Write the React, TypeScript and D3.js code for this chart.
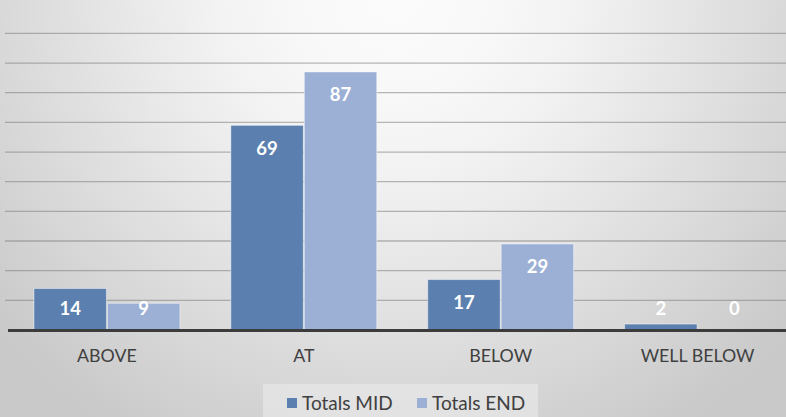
import * as d3 from "d3";
import { useEffect, useRef } from "react";

// data
const categories = ["ABOVE", "AT", "BELOW", "WELL BELOW"];
const seriesNames = ["Totals MID", "Totals END"];
const totalsMid = [14, 69, 17, 2];
const totalsEnd = [9, 87, 29, 0];
const yTicks = [0, 10, 20, 30, 40, 50, 60, 70, 80, 90, 100];

const colors = ["#5b7fae", "#9cafd5"];

export default function App() {
  const ref = useRef<SVGSVGElement | null>(null);
  const W = 786;
  const H = 417;

  useEffect(() => {
    document.body.style.margin = "0";
    const svg = d3.select(ref.current);
    svg.selectAll("*").remove();

    const font = "Lato, 'Open Sans', sans-serif";

    // 背景径向渐变
    const defs = svg.append("defs");
    const grad = defs
      .append("radialGradient")
      .attr("id", "bg")
      .attr("gradientUnits", "userSpaceOnUse")
      .attr("cx", 395)
      .attr("cy", -10)
      .attr("r", 520);
    const stops: [number, string][] = [
      [0, "#fbfbfb"],
      [0.2, "#f8f8f8"],
      [0.35, "#f2f2f2"],
      [0.5, "#e9e9e9"],
      [0.64, "#e0e0e0"],
      [0.8, "#d6d6d6"],
      [1, "#c9c9c9"],
    ];
    stops.forEach(([o, c]) =>
      grad.append("stop").attr("offset", o).attr("stop-color", c)
    );
    svg.append("rect").attr("width", W).attr("height", H).attr("fill", "url(#bg)");

    const x = d3.scaleBand().domain(categories).range([8.5, 796]).padding(0);
    const xSub = d3
      .scaleBand()
      .domain(seriesNames)
      .range([0, x.bandwidth()])
      .paddingInner(0)
      .paddingOuter(0.34);
    const y = d3.scaleLinear().domain([0, 100]).range([330, 33.4]);

    // gridlines
    svg
      .append("g")
      .selectAll("line")
      .data(yTicks.slice(1))
      .join("line")
      .attr("x1", 5)
      .attr("x2", W)
      .attr("y1", (d) => y(d))
      .attr("y2", (d) => y(d))
      .attr("stroke", "#808080")
      .attr("stroke-opacity", 0.55)
      .attr("stroke-width", 1.3);

    const rows = categories.map((c, i) => ({
      cat: c,
      vals: [totalsMid[i], totalsEnd[i]],
    }));

    const groups = svg
      .append("g")
      .selectAll("g")
      .data(rows)
      .join("g")
      .attr("transform", (d) => `translate(${x(d.cat)},0)`);

    groups
      .selectAll("rect")
      .data((d) => d.vals.map((v, k) => ({ v, k })))
      .join("rect")
      .attr("x", (d) => xSub(seriesNames[d.k])! + 0.5)
      .attr("y", (d) => y(d.v))
      .attr("width", xSub.bandwidth() - 1)
      .attr("height", (d) => y(0) - y(d.v))
      .attr("fill", (d) => colors[d.k])
      .attr("stroke", "#ffffff")
      .attr("stroke-opacity", 0.45)
      .attr("stroke-width", 1);

    groups
      .selectAll("text")
      .data((d) => d.vals.map((v, k) => ({ v, k })))
      .join("text")
      .attr("x", (d) => xSub(seriesNames[d.k])! + xSub.bandwidth() / 2)
      .attr("y", (d) => Math.min(y(d.v) + 23, 309))
      .attr("dy", "0.35em")
      .attr("text-anchor", "middle")
      .attr("fill", "#ffffff")
      .style("font-family", font)
      .style("font-weight", "bold")
      .style("font-size", "18.5px")
      .text((d) => d.v);

    // x 轴
    svg
      .append("line")
      .attr("x1", 8)
      .attr("x2", W)
      .attr("y1", y(0) + 0.5)
      .attr("y2", y(0) + 0.5)
      .attr("stroke", "#3c3c3c")
      .attr("stroke-width", 3);

    svg
      .append("g")
      .selectAll("text")
      .data(categories)
      .join("text")
      .attr("x", (d) => x(d)! + x.bandwidth() / 2)
      .attr("y", 356)
      .attr("dy", "0.35em")
      .attr("text-anchor", "middle")
      .attr("fill", "#404040")
      .style("font-family", font)
      .style("font-size", "17.8px")
      .text((d) => d);

    // legend
    const lg = svg.append("g");
    lg.append("rect")
      .attr("x", 263)
      .attr("y", 384)
      .attr("width", 275)
      .attr("height", 40)
      .attr("fill", "#ececec")
      .attr("fill-opacity", 0.55);
    const legendX = [287, 417];
    seriesNames.forEach((s, i) => {
      lg.append("rect")
        .attr("x", legendX[i])
        .attr("y", 398)
        .attr("width", 10)
        .attr("height", 10)
        .attr("fill", colors[i]);
      lg.append("text")
        .attr("x", legendX[i] + 15)
        .attr("y", 403)
        .attr("dy", "0.36em")
        .attr("fill", "#404040")
        .style("font-family", font)
        .style("font-size", "19px")
        .text(s);
    });
  }, []);

  return (
    <svg
      ref={ref}
      width={W}
      height={H}
      style={{ position: "absolute", left: 0, top: 0, display: "block" }}
    />
  );
}
